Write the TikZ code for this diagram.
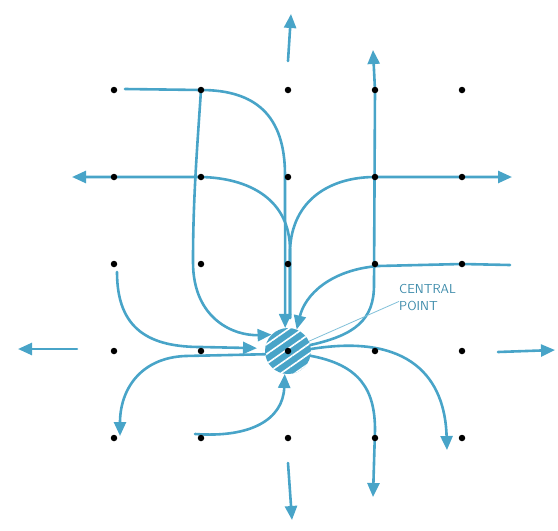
\documentclass[tikz,border=0pt]{standalone}
\usepackage{amsmath}
\usetikzlibrary{arrows.meta,patterns.meta}
\definecolor{fieldblue}{RGB}{72,164,200}

\begin{document}
\begin{tikzpicture}[x=1pt,y=-1pt,
  field/.style={draw=fieldblue,line width=2.6pt,line cap=round},
  flow/.style={field,-{Triangle[length=14pt,width=12pt]}},
  griddot/.style={circle,fill=black,inner sep=0pt,minimum size=6.5pt}]
  \useasboundingbox (0,0) rectangle (558,531);
  % grid of points
  \foreach \i in {1,...,5}
    \foreach \j in {1,...,5}
      \coordinate (g\i\j) at ({27+87*\i},{3+87*\j});
  \node[circle,inner sep=0pt,minimum size=46pt,fill=fieldblue,
        postaction={pattern={Lines[angle=35,distance=8pt,line width=1.6pt]},pattern color=white}] (cp) at (g34) {};
  % lines into the central point
  \draw[flow] (125,89) -- (g21) .. controls (255,90) and (285,115) .. (285,175) -- (cp.97);
  \draw[flow] (g21) .. controls (197,150) and (193,200) .. (193,262) .. controls (193,320) and (235,336) .. (cp.135);
  \draw[flow] (510,265) -- (g53) -- (378,266) .. controls (330,270) and (305,295) .. (cp.68);
  \draw[flow] (117,272) .. controls (117,330) and (150,347) .. (201,347) -- ([xshift=-8pt]cp.173);
  \draw[flow] (195,434) .. controls (250,438) and (283,420) .. (cp.262);
  % lines out of the central point
  \draw[flow] (290,318) -- (290,250) .. controls (290,200) and (250,178) .. (g22) -- (72,177);
  \draw[flow] (290,318) -- (290,250) .. controls (292,200) and (330,177) .. (g42) -- (512,177);
  \draw[flow] (cp.15) .. controls (355,335) and (374,320) .. (374,285) -- (g41) -- (373,50);
  \draw[flow] (cp.188) -- (185,356) .. controls (140,358) and (120,390) .. (120,436);
  \draw[flow] (cp.-12) .. controls (360,365) and (375,390) .. (375,430) -- (373,497);
  \draw[flow] (cp.5) .. controls (410,333) and (445,378) .. (447,450);
  % stubs far out
  \coordinate (tN) at (291,14); \coordinate (tW) at (18,349);
  \coordinate (tE) at (555,350); \coordinate (tS) at (292,520);
  \draw[flow] (288,61) -- (tN);
  \draw[flow] (77,349) -- (tW);
  \draw[flow] (498,352) -- (tE);
  \draw[flow] (288,463) -- (tS);
  % points
  \foreach \i in {1,...,5}
    \foreach \j in {1,...,5}
      \node[griddot] (d\i\j) at (g\i\j) {};
  % label
  \node[anchor=north west,align=left,text=fieldblue!85!black,font=\sffamily\fontsize{13}{17}\selectfont,inner sep=0pt]
    (lbl) at (399,284) {CENTRAL\\POINT};
  \draw[fieldblue!70,line width=0.8pt] (cp.25) -- ([yshift=-4pt]lbl.west);
\end{tikzpicture}
\end{document}
